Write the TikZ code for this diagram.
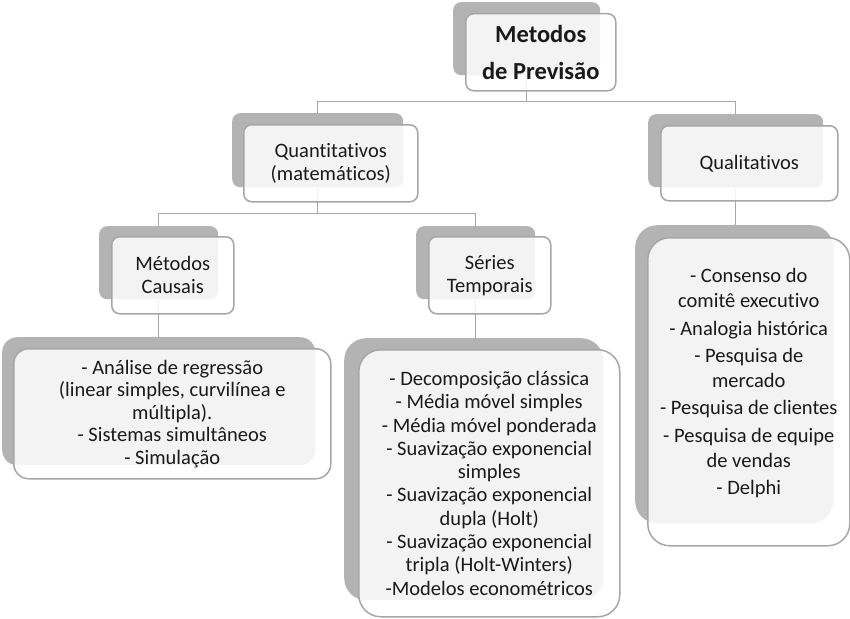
\documentclass[tikz,border=0pt]{standalone}
\usepackage{fontspec}
\setmainfont{Carlito}[Ligatures=NoCommon]
\definecolor{shade}{HTML}{B3B3B3}
\definecolor{edge}{HTML}{A6A6A6}
\definecolor{ink}{HTML}{1A1A1A}

\begin{document}
\begin{tikzpicture}[x=1pt, y=-1pt,
    shadowbox/.style={fill=shade, rounded corners=8pt, inner sep=0pt, anchor=north west},
    frontbox/.style={draw=edge, line width=1.5pt, fill=white, fill opacity=0.85,
      text opacity=1, text=ink, rounded corners=8pt, inner sep=0pt,
      anchor=north west, align=center, font=\fontsize{20.5}{23.3}\selectfont},
    conn/.style={draw=edge, line width=1.5pt}]
  \useasboundingbox (0,0) rectangle (850,618);

  % Shadows behind the boxes
  \node[shadowbox, minimum width=147pt, minimum height=73pt] (prevS) at (453,2) {};
  \node[shadowbox, minimum width=171pt, minimum height=74pt] (quantS) at (232,113) {};
  \node[shadowbox, minimum width=175pt, minimum height=73pt] (qualS) at (648,114) {};
  \node[shadowbox, minimum width=119pt, minimum height=73pt] (causS) at (99,226) {};
  \node[shadowbox, minimum width=119pt, minimum height=73pt] (serS) at (416,226) {};
  \node[shadowbox, rounded corners=15pt, minimum width=313pt, minimum height=128pt] (causlistS) at (2,337) {};
  \node[shadowbox, rounded corners=22pt, minimum width=259pt, minimum height=262pt] (serlistS) at (344,338) {};
  \node[shadowbox, rounded corners=22pt, minimum width=198pt, minimum height=298pt] (quallistS) at (635,225) {};

  % Connectors
  \draw[conn] (prevS.south) -- ++(0,26) -| (quantS.north);
  \draw[conn] (prevS.south) -- ++(0,26) -| (qualS.north);
  \draw[conn] (quantS.south) -- ++(0,26) -| (causS.north);
  \draw[conn] (quantS.south) -- ++(0,26) -| (serS.north);
  \draw[conn] (causS.south) -- (causS.south |- causlistS.north);
  \draw[conn] (serS.south) -- (serS.south |- serlistS.north);
  \draw[conn] (qualS.south) -- (qualS.south |- quallistS.north);

  % Boxes
  \node[frontbox, minimum width=150pt, minimum height=77pt,
    font=\fontsize{24.5}{37}\selectfont\bfseries] (prev) at (465,13)
    {Metodos\\de Previsão};
  \node[frontbox, minimum width=174pt, minimum height=77pt] (quant) at (243,124)
    {Quantitativos\\(matemáticos)};
  \node[frontbox, minimum width=177pt, minimum height=75pt] (qual) at (660,125)
    {Qualitativos};
  \node[frontbox, minimum width=122pt, minimum height=77pt] (caus) at (111,236)
    {Métodos\\Causais};
  \node[frontbox, minimum width=122pt, minimum height=77pt] (ser) at (428,236)
    {Séries\\Temporais};
  \node[frontbox, rounded corners=15pt, minimum width=317pt, minimum height=130pt,
    font=\fontsize{20.5}{22.5}\selectfont] (causlist) at (13,348)
    {- Análise de regressão\\(linear simples, curvilínea e\\múltipla).\\- Sistemas simultâneos\\- Simulação};
  \node[frontbox, rounded corners=22pt, minimum width=261pt, minimum height=267pt] (serlist) at (358,349)
    {- Decomposição clássica\\- Média móvel simples\\- Média móvel ponderada\\- Suavização exponencial\\simples\\- Suavização exponencial\\dupla (Holt)\\- Suavização exponencial\\tripla (Holt-Winters)\\-Modelos econométricos};
  \node[frontbox, rounded corners=22pt, minimum width=202pt, minimum height=308pt,
    font=\fontsize{20.5}{24.5}\selectfont] (quallist) at (647,237)
    {- Consenso do\\comitê executivo\\[3.2pt]- Analogia histórica\\[3.2pt]- Pesquisa de\\mercado\\[3.2pt]- Pesquisa de clientes\\[3.2pt]- Pesquisa de equipe\\de vendas\\[3.2pt]- Delphi\\[-4.5pt]};
\end{tikzpicture}
\end{document}
